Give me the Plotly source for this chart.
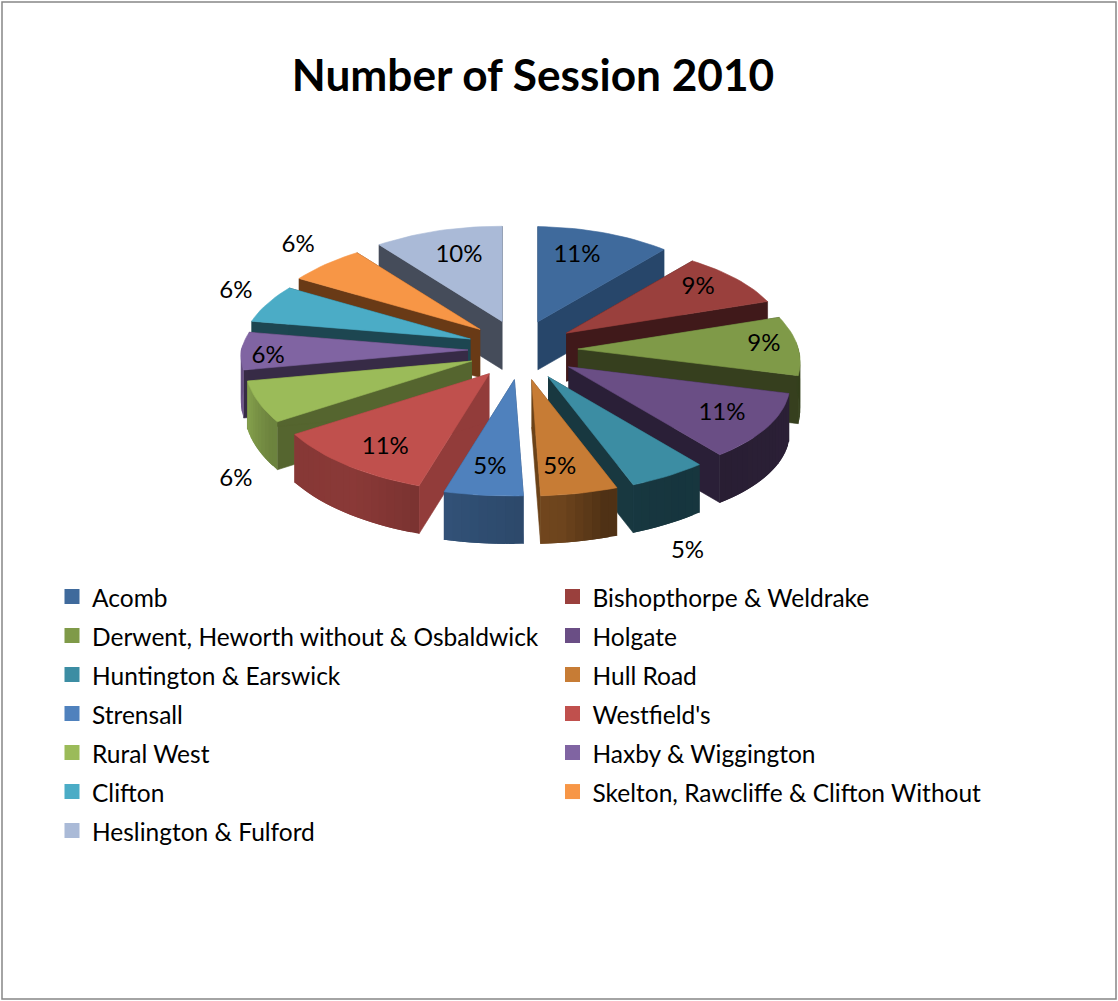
import numpy as np
import plotly.graph_objects as go

title_text = "Number of Session 2010"
categories = ["Acomb", "Bishopthorpe & Weldrake", "Derwent, Heworth without & Osbaldwick", "Holgate",
              "Huntington & Earswick", "Hull Road", "Strensall", "Westfield's", "Rural West",
              "Haxby & Wiggington", "Clifton", "Skelton, Rawcliffe & Clifton Without", "Heslington & Fulford"]
values = [11, 9, 9, 11, 5, 5, 5, 11, 6, 6, 6, 6, 10]
top_colors = ["#3F6A9C", "#9A403D", "#7F9A48", "#6A4E85", "#3C8DA3", "#C77C35", "#4F81BD",
              "#C0504D", "#9BBB59", "#8064A2", "#4BACC6", "#F79646", "#AABAD7"]
cut_colors = ["#27466A", "#40191A", "#363F1E", "#2A1F37", "#183840", "#6B4218", "#2F4C72",
              "#923C3A", "#55652F", "#372B46", "#1D4651", "#693A16", "#454C5A"]
label_angle = [14.7, 51.9, 86.4, 123.7, 159, 171.6, 187.6, 213.8, 226.3, 267.6, 294.1, 315.3, 342.7]
label_radius = [.945, .989, 1.073, 1.063, 2.04, 1.117, 1.115, 1.10, 1.765, 1.134, 1.398, 1.421, .957]

W, H = 1118, 1001
CX, CY, A, B, K, DEPTH, PX, PY = 523, 350, 225, 105, 0.08, 48, 55, 30
shade_at = [90, 130, 150, 165, 175, 190, 215, 240, 260, 285]
shade_val = [.42, .40, .38, .40, .55, .60, .72, .70, .88, .70]
# small correction of the projected rim, standing in for the original's 3D camera
fix_at = [0, 40, 72, 104, 144, 162, 180, 198, 237, 259, 270, 302, 324, 342, 360]
fix_dx = [0, -9, -7.5, -2, 10, 10, 9, 5, 4, 0, -2, 1, 1, 1, 0]
fix_dy = [2, 4, 0, 0, -3, 0, 2, 4, 2, 0, 1, 3, 3, 2, 2]


def edge(deg):
    t = np.radians(deg)
    s = 1 + K * np.cos(t)
    return (A * np.sin(t) / s + np.interp(deg, fix_at, fix_dx),
            -B * np.cos(t) / s + np.interp(deg, fix_at, fix_dy))


def darker(hexcol, f):
    rgb = [int(hexcol[i:i + 2], 16) for i in (1, 3, 5)]
    return "rgb(%d,%d,%d)" % tuple(c * f for c in rgb)


fig = go.Figure()


def poly(xs, ys, color, width=0.6):
    fig.add_trace(go.Scatter(x=list(xs), y=list(ys), mode="lines", fill="toself", fillcolor=color,
                             line=dict(color=color, width=width), hoverinfo="skip", showlegend=False))


edges = 360 * np.cumsum([0] + values) / sum(values)
mids = (edges[:-1] + edges[1:]) / 2
for i in np.argsort(-np.cos(np.radians(mids))):
    a0, a1, m = edges[i], edges[i + 1], mids[i]
    ax = CX + PX * np.sin(np.radians(m)) - 4 * max(np.cos(np.radians(m)), 0)
    ay = CY - PY * np.cos(np.radians(m))
    th = np.linspace(a0, a1, max(int(a1 - a0) // 2, 6) + 1)
    ex, ey = edge(th)
    rx, ry = ax + ex, ay + ey
    for k in (0, len(th) - 1):
        poly([ax, rx[k], rx[k], ax], [ay, ry[k], ry[k] + DEPTH, ay + DEPTH], cut_colors[i])
    n = len(th)
    for k in range(n - 1):
        if np.cos(np.radians((th[k] + th[k + 1]) / 2)) < 0.05:
            f = float(np.interp((th[k] + th[k + 1]) / 2, shade_at, shade_val))
            e = min(k + 2, n - 1)  # each panel runs under the next, so no seam shows
            poly([rx[k], rx[k + 1], rx[e], rx[e], rx[k + 1], rx[k]],
                 [ry[k], ry[k + 1], ry[e], ry[e] + DEPTH, ry[k + 1] + DEPTH, ry[k] + DEPTH],
                 darker(top_colors[i], f), width=0)
    poly(np.r_[ax, rx, ax], np.r_[ay, ry, ay], top_colors[i])

u = np.radians(label_angle)
fig.add_trace(go.Scatter(
    x=CX + A * np.array(label_radius) * np.sin(u), y=CY + 2 - B * np.array(label_radius) * np.cos(u),
    mode="text", text=[f"{v}%" for v in values], textposition="middle center",
    textfont=dict(family="Lato", size=24, color="black"), hoverinfo="skip", showlegend=False))

for name, col in zip(categories, top_colors):
    fig.add_trace(go.Scatter(x=[None], y=[None], mode="markers", name=f'<span style="font-size:24.5px">{name}</span>',
                             marker=dict(symbol="square", size=15, color=col)))

fig.update_layout(
    width=W, height=H, autosize=False, margin=dict(l=0, r=0, t=0, b=0),
    paper_bgcolor="white", plot_bgcolor="white",
    font=dict(family="Lato", color="black"),
    title=dict(text=f"<b>{title_text}</b>", x=533 / W, xanchor="center", y=1 - 76 / H, yanchor="middle",
               font=dict(family="Lato", size=44.2, color="black")),
    xaxis=dict(range=[0, W], visible=False, fixedrange=True),
    yaxis=dict(range=[H, 0], visible=False, fixedrange=True),
    legend=dict(orientation="h", x=62.5 / W, xanchor="left", y=1 - 572 / H, yanchor="top",
                entrywidth=466, entrywidthmode="pixels", itemsizing="trace", indentation=-10.5,
                font=dict(family="Lato", size=27.7, color="black"), bgcolor="rgba(0,0,0,0)", traceorder="normal"),
    shapes=[dict(type="rect", xref="paper", yref="paper", x0=2 / W, x1=1116 / W, y0=1 - 999 / H, y1=1 - 2 / H,
                 line=dict(color="#868686", width=1.5))],
)
fig.write_html("out.html", config=dict(displayModeBar=False),
               post_script="document.body.style.margin='0';document.body.style.overflow='hidden';")
